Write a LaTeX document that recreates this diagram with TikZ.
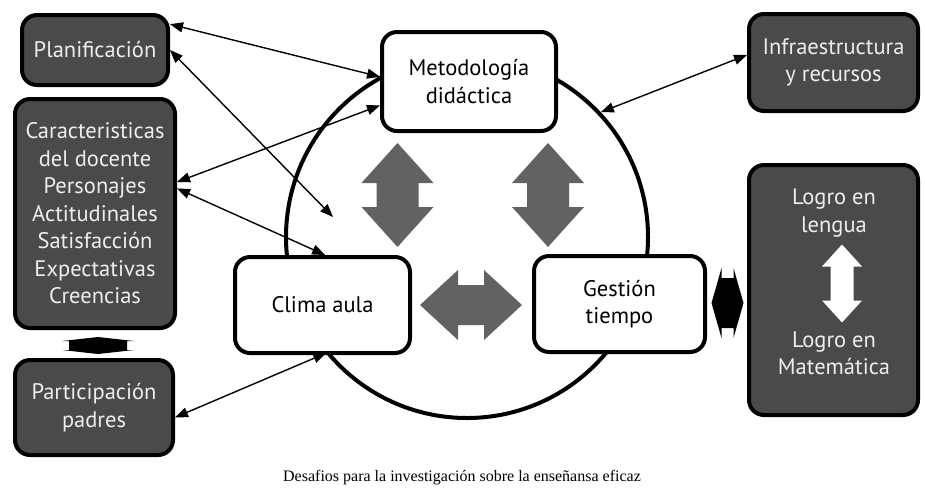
\documentclass[tikz,border=0pt]{standalone}
\usepackage{fontspec}
\setmainfont{Liberation Serif}
\newfontfamily\boxfont{PT Sans}
\usetikzlibrary{arrows.meta}
\definecolor{boxGray}{RGB}{74,74,74}
\definecolor{arrowGray}{RGB}{98,98,98}
\definecolor{boxText}{RGB}{238,238,238}

% block double arrow: style, centre, angle, half length, half head width, half shaft width, head length
\newcommand{\blockarrow}[7]{%
  \fill[#1, shift={#2}, rotate=#3] (-#4,0) -- (-#4+#7,#5) -- (-#4+#7,#6) -- (#4-#7,#6) -- (#4-#7,#5)
    -- (#4,0) -- (#4-#7,-#5) -- (#4-#7,-#6) -- (-#4+#7,-#6) -- (-#4+#7,-#5) -- cycle;}

\begin{document}
\begin{tikzpicture}[
    x=1pt, y=-1pt,
    darkbox/.style={rectangle, rounded corners=15pt, draw=black, line width=4pt, fill=boxGray, text=boxText, font=\boxfont\fontsize{22.5}{27.5}\selectfont, align=center, inner sep=0pt},
    whitebox/.style={darkbox, fill=white, text=black},
    link/.style={{Triangle[length=13pt,width=10pt]}-{Triangle[length=13pt,width=10pt]}, line width=1.4pt},
    label/.style={font=\boxfont\fontsize{22.5}{27.5}\selectfont, text=boxText, align=center}
]
\useasboundingbox (0,0) rectangle (925,491);

% Circle behind the core
\node[circle, draw=black, line width=4pt, minimum size=362pt, inner sep=0pt] (ring) at (467,237) {};

% Left factors
\node[darkbox, minimum width=146pt, minimum height=70pt]  (plan)   at (95,50)    {Planificación};
\node[darkbox, minimum width=160pt, minimum height=229pt] (carac)  at (95,213.5) {Caracteristicas\\del docente\\Personajes\\Actitudinales\\Satisfacción\\Expectativas\\Creencias};
\node[darkbox, minimum width=158pt, minimum height=95pt]  (padres) at (94,407.5) {Participación\\padres};

% Core of the circle
\node[whitebox, minimum width=174pt, minimum height=99pt] (metod)   at (469,81.5) {Metodología\\didáctica};
\node[whitebox, minimum width=175pt, minimum height=96pt] (clima)   at (322.5,305) {Clima aula};
\node[whitebox, minimum width=171pt, minimum height=96pt] (gestion) at (619.5,304) {Gestión\\tiempo};

% Right factors
\node[darkbox, minimum width=169pt, minimum height=97pt]  (infra) at (833.5,62.5) {Infraestructura\\y recursos};
\node[darkbox, minimum width=169pt, minimum height=250pt] (logro) at (833.5,290) {};
\node[label] (logroLen) at (834,213) {Logro en\\lengua};
\node[label] (logroMat) at (834,353) {Logro en\\Matemática};

% Block arrows
\blockarrow{arrowGray}{(397.5,195)}{90}{52}{36}{21}{40}
\blockarrow{arrowGray}{(548,195)}{90}{52}{36}{21}{40}
\blockarrow{arrowGray}{(471,305)}{0}{51}{35}{20}{38}
\blockarrow{white}{(842,283.5)}{90}{39}{20}{11.5}{22}
\blockarrow{black}{(727.5,303)}{0}{16}{35}{25}{10}
\blockarrow{black}{(98,345.5)}{90}{8.5}{36}{29}{4}

% Free ends of links
\coordinate (toClima) at (333,217);

% Links
\draw[link] (plan.19) -- (metod.177);
\draw[link] (plan.east) -- (toClima);
\draw[link] (carac.21) -- (metod.195);
\draw[link] (carac.17) -- (clima.87);
\draw[link, shorten >=-5pt] (padres.-7) -- (clima.-91);
\draw[link] (infra.175) -- (ring.43);

% Caption
\node[font=\fontsize{16}{19}\selectfont] (caption) at (462,478) {Desafios para la investigación sobre la enseñansa eficaz};

\end{tikzpicture}
\end{document}
